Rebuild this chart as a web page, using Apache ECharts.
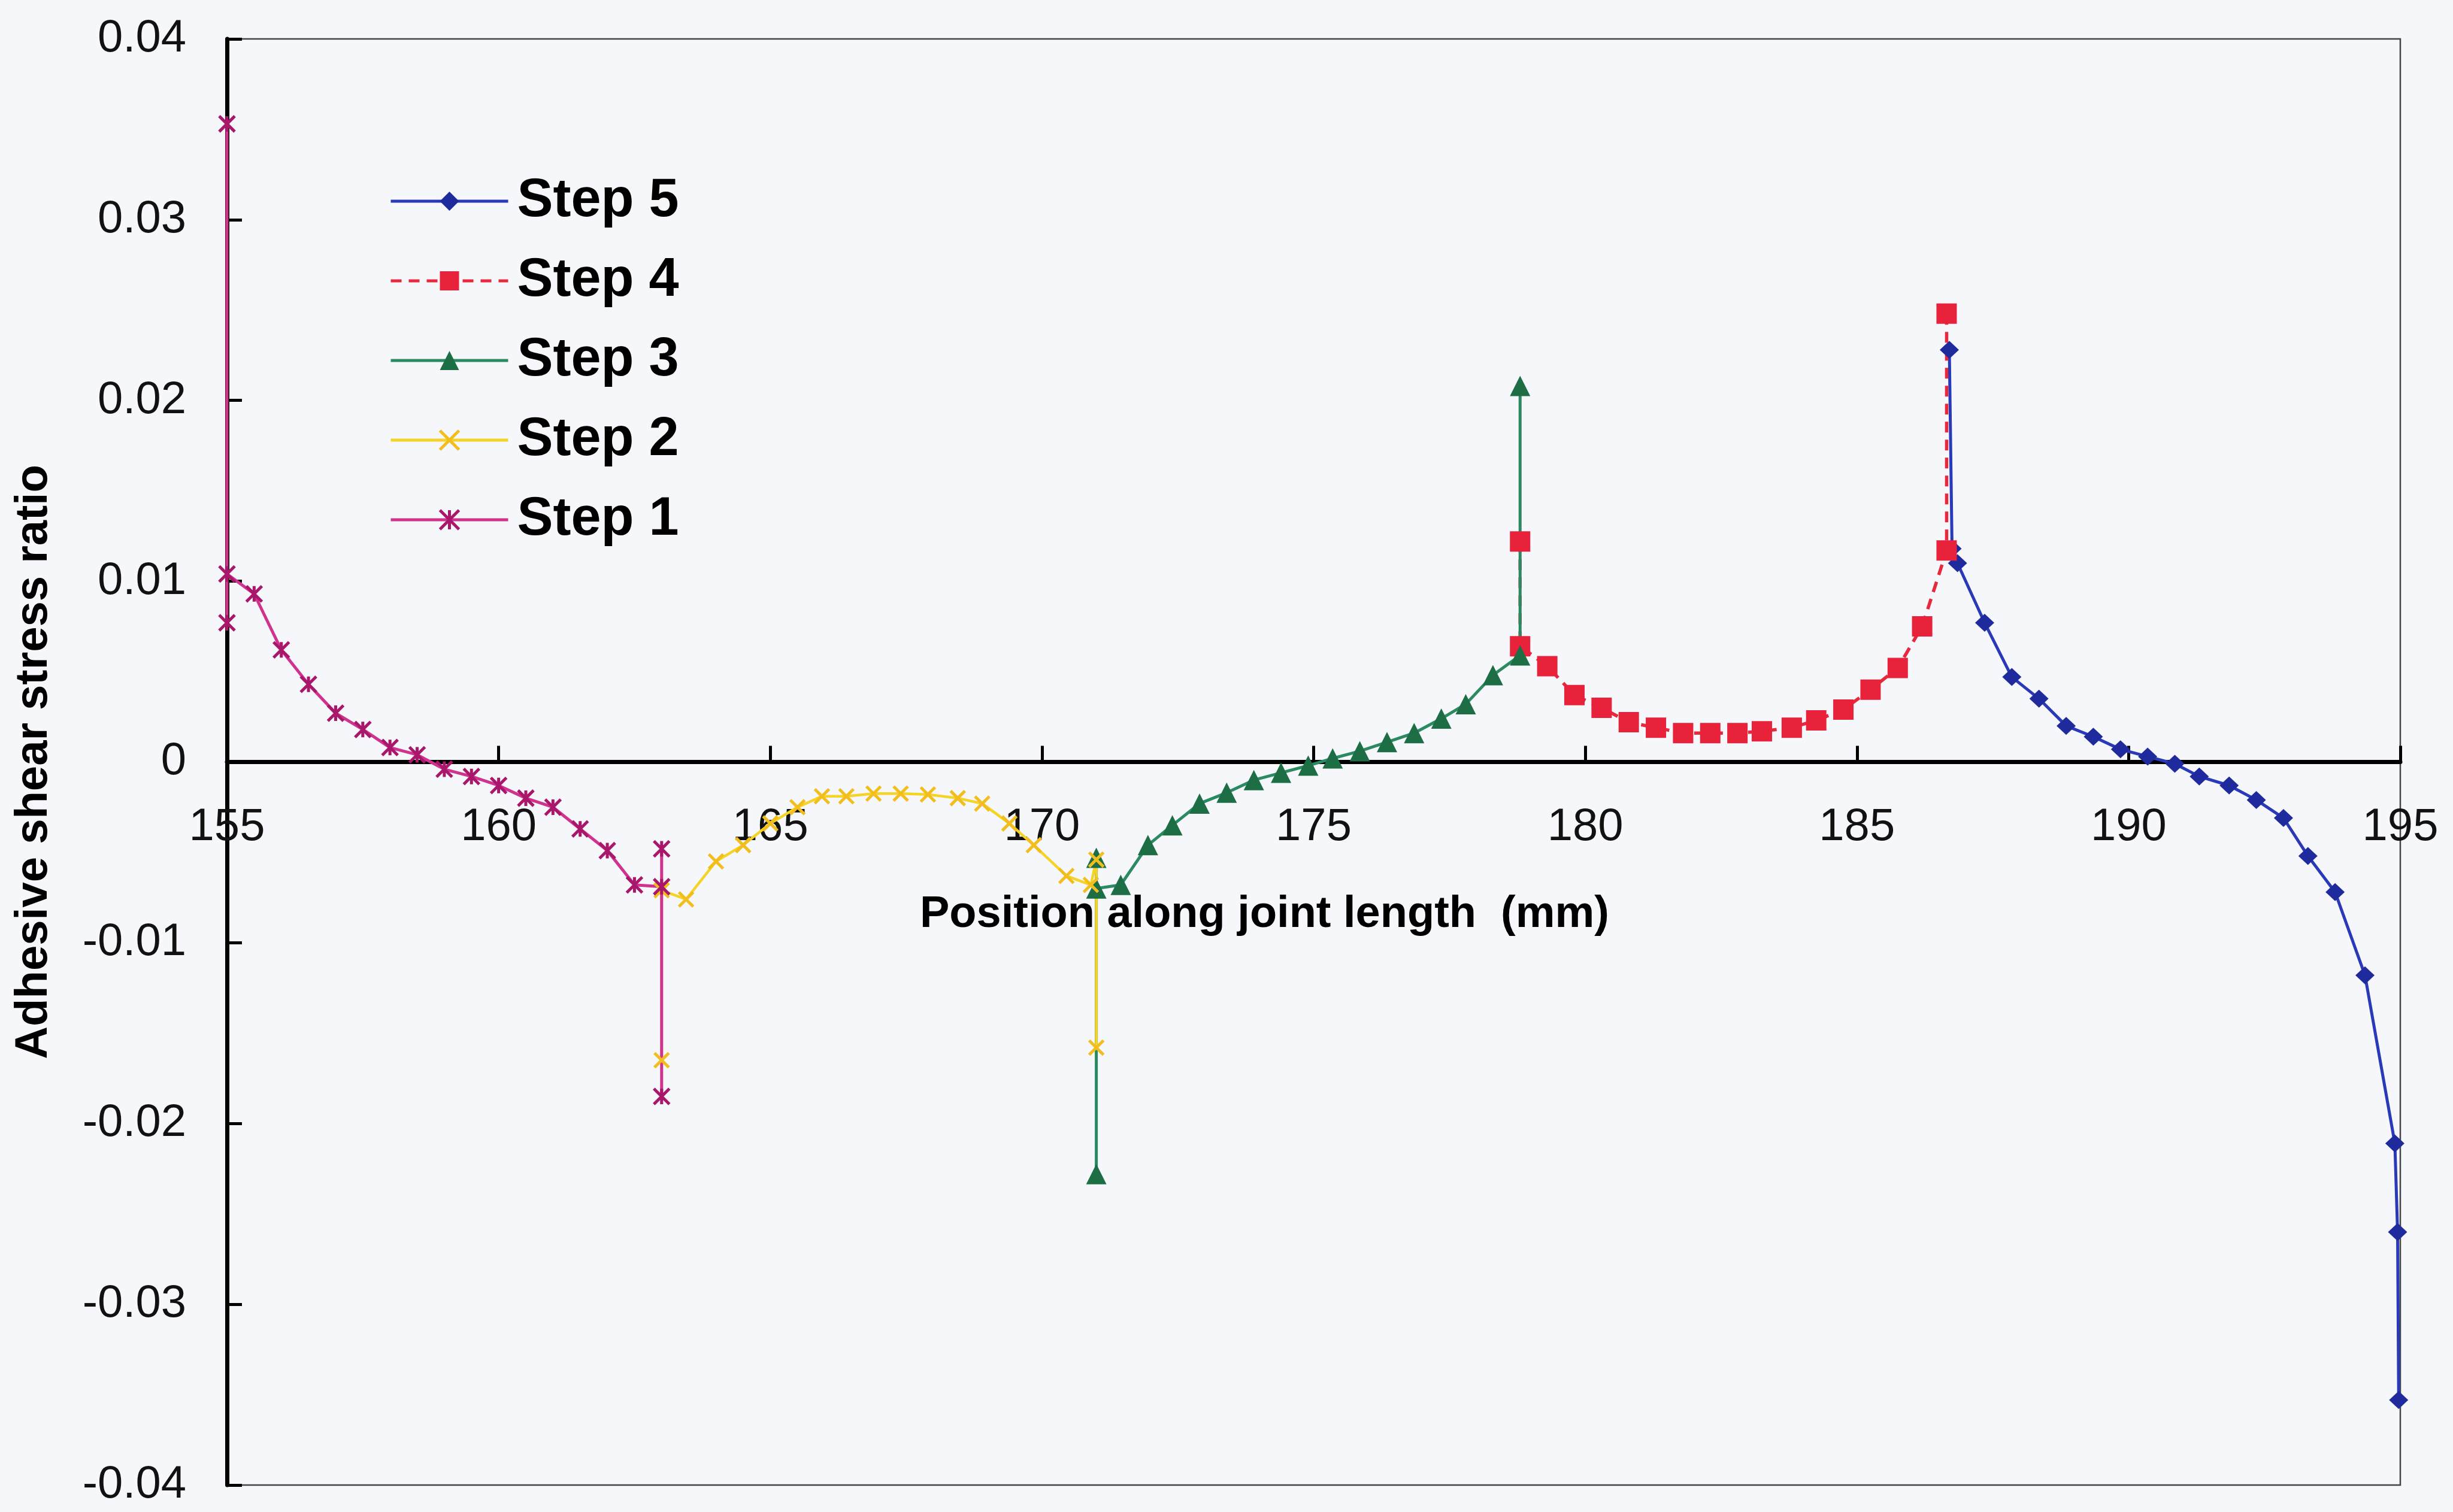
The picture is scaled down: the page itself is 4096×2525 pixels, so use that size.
<!DOCTYPE html>
<html>
<head>
<meta charset="utf-8">
<script src="https://cdn.jsdelivr.net/npm/echarts@6/dist/echarts.min.js"></script>
<style>
html,body{margin:0;padding:0;background:#F5F7FB;}
#chart{width:4096px;height:2525px;}
</style>
</head>
<body>
<div id="chart"></div>
<script>
// ---- Data ----
const seriesNames = ['Step 5', 'Step 4', 'Step 3', 'Step 2', 'Step 1'];

const step1X = [155, 155, 155, 155.5, 156, 156.5, 157, 157.5, 158, 158.5, 159, 159.5, 160, 160.5, 161, 161.5, 162, 162.5, 163, 163, 163];
const step1Y = [0.0353, 0.0077, 0.0104, 0.0093, 0.0062, 0.0043, 0.0027, 0.0018, 0.0008, 0.0004, -0.0004, -0.0008, -0.0013, -0.0020, -0.0025, -0.0037, -0.0049, -0.0068, -0.0069, -0.0048, -0.0185];

const step2X = [163, 163, 163.45, 164, 164.5, 165, 165.5, 165.95, 166.4, 166.9, 167.4, 167.9, 168.45, 168.9, 169.4, 169.85, 170.45, 170.9, 171, 171];
const step2Y = [-0.0165, -0.0071, -0.0076, -0.0055, -0.0046, -0.0034, -0.0025, -0.0019, -0.0019, -0.00175, -0.00175, -0.0018, -0.0020, -0.0023, -0.0034, -0.0046, -0.0063, -0.0068, -0.0054, -0.0158];

const step3X = [171, 171, 171, 171.45, 171.95, 172.4, 172.9, 173.4, 173.9, 174.4, 174.9, 175.35, 175.85, 176.35, 176.85, 177.35, 177.8, 178.3, 178.8, 178.8];
const step3Y = [-0.0053, -0.0228, -0.0070, -0.0068, -0.0046, -0.0035, -0.0023, -0.0017, -0.0010, -0.0006, -0.0002, 0.0002, 0.0006, 0.0011, 0.0016, 0.0024, 0.0032, 0.0048, 0.0059, 0.0208];

const step4X = [178.8, 178.8, 179.3, 179.8, 180.3, 180.8, 181.3, 181.8, 182.3, 182.8, 183.25, 183.8, 184.25, 184.75, 185.25, 185.75, 186.2, 186.65, 186.65];
const step4Y = [0.0122, 0.0064, 0.0053, 0.0037, 0.0030, 0.0022, 0.0019, 0.0016, 0.0016, 0.0016, 0.0017, 0.0019, 0.0023, 0.0029, 0.0040, 0.0052, 0.0075, 0.0117, 0.0248];

const step5X = [186.7, 186.75, 186.85, 187.35, 187.85, 188.35, 188.85, 189.35, 189.85, 190.35, 190.85, 191.3, 191.85, 192.35, 192.85, 193.3, 193.8, 194.35, 194.9, 194.95, 194.97];
const step5Y = [0.0228, 0.0118, 0.0110, 0.0077, 0.0047, 0.0035, 0.0020, 0.0014, 0.0007, 0.0003, -0.0001, -0.0008, -0.0013, -0.0021, -0.0031, -0.0052, -0.0072, -0.0118, -0.0211, -0.0260, -0.0353];

const xTicks = [155, 160, 165, 170, 175, 180, 185, 190, 195];
const yTicks = [-0.04, -0.03, -0.02, -0.01, 0, 0.01, 0.02, 0.03, 0.04];

const xAxisTitle = 'Position along joint length  (mm)';
const yAxisTitle = 'Adhesive shear stress ratio';

// ---- Helpers ----
const zip = (xs, ys) => xs.map((x, i) => [x, ys[i]]);
const FONT = '"Liberation Sans", Arial, Helvetica, sans-serif';
const ASTERISK = 'path://M0,0L10,10M10,0L0,10M5,0L5,10';
const CROSS = 'path://M0,0L10,10M10,0L0,10';

// grid geometry (pixels)
const G_TOP = 65, G_BOTTOM = 45, H = 2525;
const gridH = H - G_TOP - G_BOTTOM;
const yMin = yTicks[0], yMax = yTicks[yTicks.length - 1];
// distance from grid bottom up to the value-0 line, so the x axis is drawn there
const zeroOffset = -gridH * (0 - yMin) / (yMax - yMin);

// stroked (line-drawn) markers need a border width in the legend too
const strokedMarker = { 'Step 2': '#F2BE1E', 'Step 1': '#A8176A' };
const legendData = seriesNames.map(n => strokedMarker[n]
  ? { name: n, itemStyle: { borderColor: strokedMarker[n], borderWidth: 5 } }
  : { name: n });

const chart = echarts.init(document.getElementById('chart'), null, { renderer: 'canvas' });

const option = {
  backgroundColor: '#F5F7FB',
  animation: false,
  grid: {
    left: 379, right: 88, top: G_TOP, bottom: G_BOTTOM,
    show: true, borderColor: '#444', borderWidth: 2.5,
    outerBoundsMode: 'none', containLabel: false
  },
  legend: {
    orient: 'vertical',
    left: 645, top: 286,
    itemWidth: 196, itemHeight: 40, itemGap: 43,
    data: legendData,
    lineStyle: { width: 5 },
    textStyle: { fontFamily: FONT, fontSize: 90, fontWeight: 'bold', color: '#000', lineHeight: 90, padding: [0, 0, 0, 10] }
  },
  xAxis: {
    type: 'value', position: 'bottom', offset: zeroOffset,
    min: xTicks[0], max: xTicks[xTicks.length - 1], interval: xTicks[1] - xTicks[0],
    name: xAxisTitle, nameLocation: 'middle', nameGap: 218, nameMoveOverlap: false,
    nameTextStyle: { fontFamily: FONT, fontSize: 74, fontWeight: 'bold', color: '#000', padding: [0, 164, 0, 0] },
    axisLine: { onZero: false, lineStyle: { color: '#000', width: 7 } },
    axisTick: { show: true, inside: true, length: 27, lineStyle: { color: '#000', width: 5 } },
    axisLabel: { margin: 72, fontFamily: FONT, fontSize: 76, color: '#111', showMinLabel: true, showMaxLabel: true },
    splitLine: { show: false }
  },
  yAxis: {
    type: 'value',
    min: yMin, max: yMax, interval: yTicks[1] - yTicks[0],
    name: yAxisTitle, nameLocation: 'middle', nameGap: 284, nameRotate: 90, nameMoveOverlap: false,
    nameTextStyle: { fontFamily: FONT, fontSize: 76, fontWeight: 'bold', color: '#000' },
    axisLine: { onZero: false, lineStyle: { color: '#000', width: 7 } },
    axisTick: { show: true, inside: true, length: 25, lineStyle: { color: '#000', width: 5 } },
    axisLabel: {
      margin: 68, fontFamily: FONT, fontSize: 76, color: '#111',
      formatter: v => (Math.abs(v) < 1e-9 ? '0' : v.toFixed(2))
    },
    splitLine: { show: false }
  },
  series: [
    {
      name: 'Step 5', type: 'line', data: zip(step5X, step5Y),
      symbol: 'diamond', symbolSize: [32, 30],
      lineStyle: { color: '#2A39B8', width: 5 },
      itemStyle: { color: '#1F2B9C' }
    },
    {
      name: 'Step 4', type: 'line', data: zip(step4X, step4Y),
      symbol: 'rect', symbolSize: 34,
      lineStyle: { color: '#E8283C', width: 5.5, type: [18, 12] },
      itemStyle: { color: '#E8223A' }
    },
    {
      name: 'Step 3', type: 'line', data: zip(step3X, step3Y),
      symbol: 'triangle', symbolSize: 34,
      lineStyle: { color: '#2C8A62', width: 5 },
      itemStyle: { color: '#1D6E45' }
    },
    {
      name: 'Step 2', type: 'line', data: zip(step2X, step2Y),
      symbol: CROSS, symbolSize: 24,
      lineStyle: { color: '#F5D327', width: 4.5 },
      itemStyle: { color: '#F2BE1E', borderColor: '#F2BE1E', borderWidth: 5 }
    },
    {
      name: 'Step 1', type: 'line', data: zip(step1X, step1Y),
      symbol: ASTERISK, symbolSize: 26,
      lineStyle: { color: '#D0338E', width: 5 },
      itemStyle: { color: '#A8176A', borderColor: '#A8176A', borderWidth: 5 }
    }
  ]
};

chart.setOption(option);
</script>
</body>
</html>
